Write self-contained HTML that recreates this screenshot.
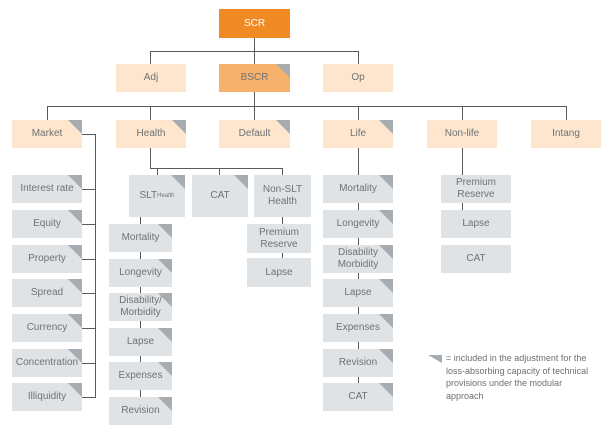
<!DOCTYPE html><html><head><style>
body{margin:0;width:607px;height:430px;background:#fff;position:relative;font-family:"Liberation Sans",sans-serif;overflow:hidden}
.b{position:absolute;display:flex;align-items:center;justify-content:center;text-align:center;font-size:10px;color:#707274;line-height:12px;overflow:hidden}
.o{background:#fde6cd}.g{background:#dfe3e6}
.t::after{content:"";position:absolute;right:0;top:0;border-style:solid;border-width:0 14px 14px 0;border-color:transparent #a7acb0 transparent transparent}
.l{position:absolute;background:#5a5a5a}
</style></head><body>
<div class="l" style="left:254px;top:38px;width:1px;height:26px"></div>
<div class="l" style="left:150px;top:51px;width:208px;height:1px"></div>
<div class="l" style="left:150px;top:51px;width:1px;height:13px"></div>
<div class="l" style="left:358px;top:51px;width:1px;height:13px"></div>
<div class="l" style="left:254px;top:92px;width:1px;height:28px"></div>
<div class="l" style="left:47px;top:106px;width:520px;height:1px"></div>
<div class="l" style="left:47px;top:106px;width:1px;height:14px"></div>
<div class="l" style="left:150px;top:106px;width:1px;height:14px"></div>
<div class="l" style="left:358px;top:106px;width:1px;height:14px"></div>
<div class="l" style="left:462px;top:106px;width:1px;height:14px"></div>
<div class="l" style="left:566px;top:106px;width:1px;height:14px"></div>
<div class="l" style="left:82px;top:134px;width:14px;height:1px"></div>
<div class="l" style="left:95px;top:134px;width:1px;height:264px"></div>
<div class="l" style="left:82px;top:189px;width:14px;height:1px"></div>
<div class="l" style="left:82px;top:224px;width:14px;height:1px"></div>
<div class="l" style="left:82px;top:259px;width:14px;height:1px"></div>
<div class="l" style="left:82px;top:293px;width:14px;height:1px"></div>
<div class="l" style="left:82px;top:328px;width:14px;height:1px"></div>
<div class="l" style="left:82px;top:363px;width:14px;height:1px"></div>
<div class="l" style="left:82px;top:397px;width:14px;height:1px"></div>
<div class="l" style="left:150px;top:148px;width:1px;height:20px"></div>
<div class="l" style="left:150px;top:168px;width:133px;height:1px"></div>
<div class="l" style="left:157px;top:168px;width:1px;height:7px"></div>
<div class="l" style="left:219px;top:168px;width:1px;height:7px"></div>
<div class="l" style="left:282px;top:168px;width:1px;height:7px"></div>
<div class="l" style="left:140px;top:217px;width:1px;height:190px"></div>
<div class="l" style="left:282px;top:217px;width:1px;height:50px"></div>
<div class="l" style="left:358px;top:148px;width:1px;height:245px"></div>
<div class="l" style="left:462px;top:148px;width:1px;height:90px"></div>

<div class="b" style="left:219px;top:9px;width:71px;height:29px;background:#f08a24;color:#fff">SCR</div>
<div class="b o" style="left:116px;top:64px;width:70px;height:28px">Adj</div>
<div class="b t" style="left:219px;top:64px;width:71px;height:28px;background:#f6b26c">BSCR</div>
<div class="b o" style="left:323px;top:64px;width:70px;height:28px">Op</div>

<div class="b o t" style="left:12px;top:120px;width:70px;height:28px">Market</div>
<div class="b o t" style="left:116px;top:120px;width:70px;height:28px">Health</div>
<div class="b o t" style="left:219px;top:120px;width:71px;height:28px">Default</div>
<div class="b o t" style="left:323px;top:120px;width:70px;height:28px">Life</div>
<div class="b o" style="left:427px;top:120px;width:70px;height:28px">Non-life</div>
<div class="b o" style="left:531px;top:120px;width:70px;height:28px">Intang</div>

<div class="b g t" style="left:12px;top:175px;width:70px;height:28px">Interest rate</div>
<div class="b g t" style="left:12px;top:210px;width:70px;height:28px">Equity</div>
<div class="b g t" style="left:12px;top:245px;width:70px;height:28px">Property</div>
<div class="b g t" style="left:12px;top:279px;width:70px;height:28px">Spread</div>
<div class="b g t" style="left:12px;top:314px;width:70px;height:28px">Currency</div>
<div class="b g t" style="left:12px;top:349px;width:70px;height:28px">Concentration</div>
<div class="b g t" style="left:12px;top:383px;width:70px;height:28px">Illiquidity</div>

<div class="b g t" style="left:129px;top:175px;width:56px;height:42px">SLT<sub style="font-size:6px;vertical-align:-3px">Health</sub></div>
<div class="b g t" style="left:192px;top:175px;width:56px;height:42px">CAT</div>
<div class="b g" style="left:254px;top:175px;width:57px;height:42px">Non-SLT<br>Health</div>
<div class="b g" style="left:247px;top:224px;width:64px;height:29px">Premium<br>Reserve</div>
<div class="b g" style="left:247px;top:258px;width:64px;height:29px">Lapse</div>

<div class="b g t" style="left:109px;top:224px;width:63px;height:28px">Mortality</div>
<div class="b g t" style="left:109px;top:259px;width:63px;height:28px">Longevity</div>
<div class="b g t" style="left:109px;top:293px;width:63px;height:28px">Disability/<br>Morbidity</div>
<div class="b g t" style="left:109px;top:328px;width:63px;height:28px">Lapse</div>
<div class="b g t" style="left:109px;top:362px;width:63px;height:28px">Expenses</div>
<div class="b g t" style="left:109px;top:397px;width:63px;height:28px">Revision</div>

<div class="b g t" style="left:323px;top:175px;width:70px;height:28px">Mortality</div>
<div class="b g t" style="left:323px;top:210px;width:70px;height:28px">Longevity</div>
<div class="b g t" style="left:323px;top:245px;width:70px;height:28px">Disability<br>Morbidity</div>
<div class="b g t" style="left:323px;top:279px;width:70px;height:28px">Lapse</div>
<div class="b g t" style="left:323px;top:314px;width:70px;height:28px">Expenses</div>
<div class="b g t" style="left:323px;top:349px;width:70px;height:28px">Revision</div>
<div class="b g t" style="left:323px;top:383px;width:70px;height:28px">CAT</div>

<div class="b g" style="left:441px;top:175px;width:70px;height:28px">Premium<br>Reserve</div>
<div class="b g" style="left:441px;top:210px;width:70px;height:28px">Lapse</div>
<div class="b g" style="left:441px;top:245px;width:70px;height:28px">CAT</div>

<div style="position:absolute;left:428px;top:355px;border-style:solid;border-width:0 14px 8px 0;border-color:transparent #a7acb0 transparent transparent"></div>
<div style="position:absolute;left:446px;top:352px;width:156px;font-size:9px;line-height:12.5px;color:#6d6f71">= included in the adjustment for the loss-absorbing capacity of technical provisions under the modular<br>approach</div>
</body></html>
